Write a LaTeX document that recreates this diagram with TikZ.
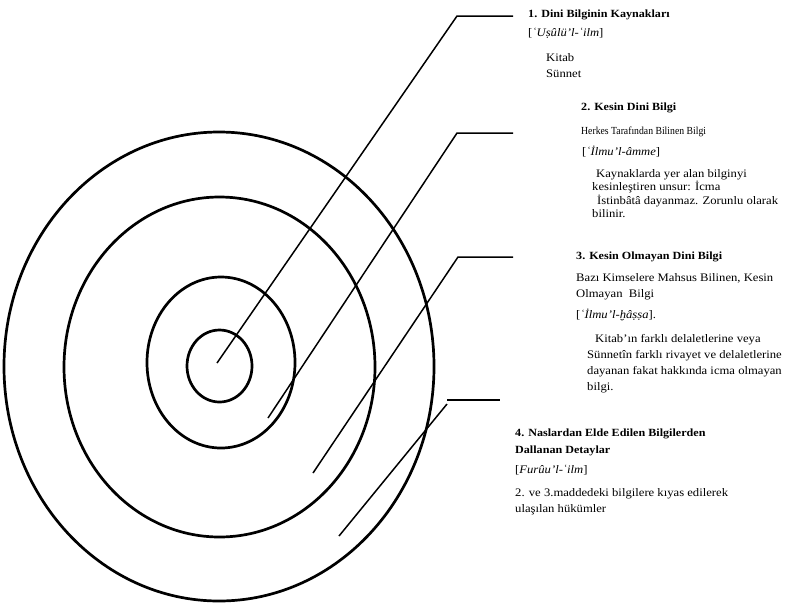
\documentclass[tikz,border=0pt]{standalone}
\usepackage{fontspec}
\setmainfont[FakeStretch=1.1]{Liberation Serif}
\newfontfamily\narrowserif[FakeStretch=0.9]{Liberation Serif}
\begin{document}
\begin{tikzpicture}[x=1pt,y=-1pt,
  ring/.style={line width=2.7pt},
  lead/.style={line width=1.5pt},
  body/.style={anchor=base west, inner sep=0pt, font=\fontsize{11.5}{13}\selectfont},
  head/.style={anchor=base west, inner sep=0pt, font=\fontsize{11}{13}\selectfont\bfseries},
  small/.style={anchor=base west, inner sep=0pt, font=\narrowserif\fontsize{10.8}{12}\selectfont}]
\useasboundingbox (0,0) rectangle (802,606);
% rings
\draw[ring] (219,366.5) ellipse [x radius=215, y radius=234.5];
\draw[ring] (219.5,367) ellipse [x radius=155.5, y radius=170];
\draw[ring] (221,362.5) ellipse [x radius=74, y radius=85.5];
\draw[ring] (219.5,366) ellipse [x radius=32.5, y radius=36];
% leader coordinates
\coordinate (p1) at (217,363); \coordinate (k1) at (457,16);  \coordinate (e1) at (513,16);
\coordinate (p2) at (268,418); \coordinate (k2) at (457,133); \coordinate (e2) at (513,133);
\coordinate (p3) at (313,473); \coordinate (k3) at (458,257); \coordinate (e3) at (513,257);
\coordinate (p4) at (339,536); \coordinate (k4) at (447,404);
\coordinate (h4a) at (447,400); \coordinate (h4b) at (500,400);
\draw[lead] (p1) -- (k1) -- (e1);
\draw[lead] (p2) -- (k2) -- (e2);
\draw[lead] (p3) -- (k3) -- (e3);
\draw[lead] (p4) -- (k4);
\draw[line width=2.2pt] (h4a) -- (h4b);
% section 1
\node[head] (t1) at (528,17) {1. Dini Bilginin Kaynakları};
\node[body] (b1) at (528,36) {[\textit{ʿUṣûlü’l-ʿilm}]};
\node[body] (s1a) at (546,61) {Kitab};
\node[body] (s1b) at (546,77) {Sünnet};
% section 2
\node[head] (t2) at (581,110) {2. Kesin Dini Bilgi};
\node[small] (a2) at (581,134) {Herkes Tarafından Bilinen Bilgi};
\node[body] (b2) at (582,155) {[\textit{ʿİlmu’l-âmme}]};
\node[body] (c2a) at (596,177) {Kaynaklarda yer alan bilginyi};
\node[body] (c2b) at (592,190) {kesinleştiren unsur: İcma};
\node[body] (c2c) at (597,204) {İstinbâtâ dayanmaz. Zorunlu olarak};
\node[body] (c2d) at (592,217) {bilinir.};
% section 3
\node[head] (t3) at (576,259) {3. Kesin Olmayan Dini Bilgi};
\node[body] (a3a) at (576,281) {Bazı Kimselere Mahsus Bilinen, Kesin};
\node[body] (a3b) at (576,297) {Olmayan\ \ Bilgi};
\node[body] (b3) at (576,318) {[\textit{ʿİlmu’l-ḫâṣṣa}].};
\node[body] (c3a) at (595,342) {Kitab’ın farklı delaletlerine veya};
\node[body] (c3b) at (587,358) {Sünnetîn farklı rivayet ve delaletlerine};
\node[body] (c3c) at (587,374) {dayanan fakat hakkında icma olmayan};
\node[body] (c3d) at (587,390) {bilgi.};
% section 4
\node[head] (t4a) at (515,436) {4. Naslardan Elde Edilen Bilgilerden};
\node[head] (t4b) at (515,453) {Dallanan Detaylar};
\node[body] (b4) at (515,473) {[\textit{Furûu’l-ʿilm}]};
\node[body] (c4a) at (515,496) {2. ve 3.maddedeki bilgilere kıyas edilerek};
\node[body] (c4b) at (515,512) {ulaşılan hükümler};
\end{tikzpicture}
\end{document}
